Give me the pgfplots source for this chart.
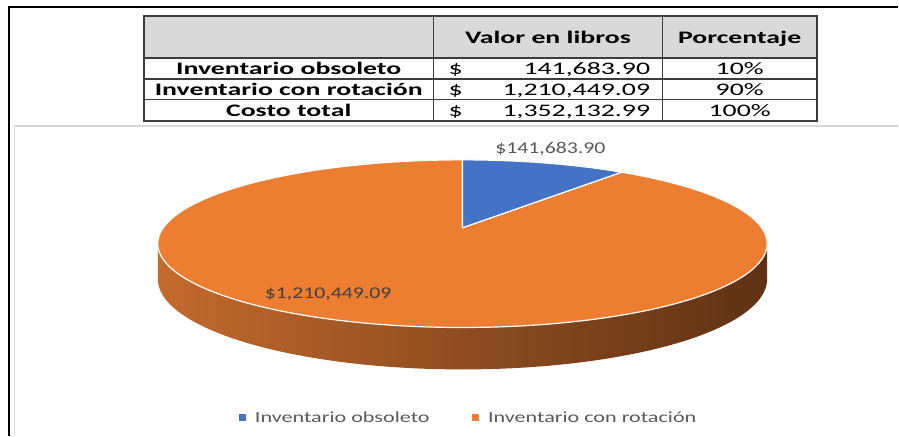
\documentclass[border=0pt]{standalone}
\usepackage{pgfplots}
\pgfplotsset{compat=1.18}
\usepackage{pgfplotstable}
\usepackage{fontspec}
\setmainfont{Carlito}
\newfontfamily\tabfont[FakeStretch=1.58]{Carlito}
\newfontfamily\labfont[FakeStretch=1.32]{Carlito}
\newfontfamily\legfont[FakeStretch=1.43]{Carlito}
\definecolor{xlblue}{RGB}{68,114,196}
\definecolor{xlorange}{RGB}{237,125,49}
\definecolor{sideL}{RGB}{196,106,45}
\definecolor{sideM}{RGB}{142,77,32}
\definecolor{sideR}{RGB}{95,50,20}
\definecolor{hdrgray}{RGB}{217,217,217}
\definecolor{tabline}{RGB}{60,60,60}
\definecolor{areagray}{RGB}{217,217,217}
\definecolor{labgray}{RGB}{89,89,89}
\definecolor{labdark}{RGB}{64,64,64}

\pgfplotstableread{
categoria valor
obsoleto 141683.90
rotacion 1210449.09
}\piedata

\begin{document}
\pgfplotstablegetelem{0}{valor}\of\piedata \edef\vA{\pgfplotsretval}%
\pgfplotstablegetelem{1}{valor}\of\piedata \edef\vB{\pgfplotsretval}%
\edef\angA{\fpeval{360*\vA/(\vA+\vB)}}%
\begin{tikzpicture}
\begin{axis}[
  x=1pt, y=1pt, xmin=0, xmax=899, ymin=0, ymax=436, y dir=reverse,
  hide axis, clip=false, scale only axis,
  declare function={
    sc(\p)=1/(1+0.19*cos(\p));
    px(\p)=463+299.5*sc(\p)*sin(\p);
    py(\p)=228-80.9*sc(\p)*cos(\p);
    ph(\t)=100.95+min(\t,2-\t)*158.1;
  },
  legend columns=2,
  legend style={at={(axis cs:469,418)}, anchor=center, draw=none, fill=none,
    font=\legfont\fontsize{15.5}{18}\selectfont, text=labgray,
    inner sep=0pt, column sep=0pt,
    /tikz/every odd column/.append style={column sep=8pt},
    /tikz/every even column/.append style={column sep=40pt}},
]
\path (axis cs:0,0) rectangle (axis cs:899,436);
% frames
\draw[black, line width=2pt] (axis cs:9,436) -- (axis cs:9,7) -- (axis cs:899,7);
\draw[areagray, line width=1.5pt] (axis cs:14.5,436) -- (axis cs:14.5,126) -- (axis cs:899,126);
% table
\fill[hdrgray] (axis cs:144,16) rectangle (axis cs:818,58);
\draw[tabline, line width=1.4pt] (axis cs:144,16) rectangle (axis cs:818,121);
\draw[tabline, line width=1.4pt] (axis cs:144,58) -- (axis cs:818,58);
\draw[tabline, line width=1.2pt] (axis cs:144,79) -- (axis cs:818,79);
\draw[tabline, line width=1.2pt] (axis cs:144,100) -- (axis cs:818,100);
\draw[tabline, line width=1.2pt] (axis cs:434,16) -- (axis cs:434,121);
\draw[tabline, line width=1.2pt] (axis cs:663,16) -- (axis cs:663,121);
\begin{scope}[every node/.style={font=\tabfont\fontsize{17.6}{20}\selectfont, text=black, inner sep=0pt}]
\node[anchor=base, font=\tabfont\bfseries\fontsize{17.6}{20}\selectfont] at (axis cs:548.5,44) {Valor en libros};
\node[anchor=base, font=\tabfont\bfseries\fontsize{17.6}{20}\selectfont] at (axis cs:740.5,44) {Porcentaje};
\node[anchor=base, font=\tabfont\bfseries\fontsize{17.6}{20}\selectfont] at (axis cs:289,75) {Inventario obsoleto};
\node[anchor=base, font=\tabfont\bfseries\fontsize{17.6}{20}\selectfont] at (axis cs:289,96) {Inventario con rotación};
\node[anchor=base, font=\tabfont\bfseries\fontsize{17.6}{20}\selectfont] at (axis cs:289,117) {Costo total};
\node[anchor=base west] at (axis cs:449,75) {\$};
\node[anchor=base west] at (axis cs:449,96) {\$};
\node[anchor=base west] at (axis cs:449,117) {\$};
\node[anchor=base east] at (axis cs:651,75) {141,683.90};
\node[anchor=base east] at (axis cs:651,96) {1,210,449.09};
\node[anchor=base east] at (axis cs:651,117) {1,352,132.99};
\node[anchor=base] at (axis cs:740.5,75) {10\%};
\node[anchor=base] at (axis cs:740.5,96) {90\%};
\node[anchor=base] at (axis cs:740.5,117) {100\%};
\end{scope}
% pie side
\addplot[forget plot, draw=none, left color=sideL, right color=sideR, middle color=sideM,
  variable=\t, domain=0:2, samples=161]
  ({px(ph(\t))},{py(ph(\t))+(\t>1)*34*sc(ph(\t))}) -- cycle;
% orange top face
\addplot[forget plot, fill=xlorange, draw=white, line width=1.2pt, line join=round,
  variable=\t, domain=\angA:360, samples=150]
  ({px(\t)},{py(\t)}) -- (axis cs:463,228) -- cycle;
% blue wedge
\addplot[forget plot, fill=xlblue, draw=white, line width=1.2pt, line join=round,
  variable=\t, domain=0:\angA, samples=40]
  ({px(\t)},{py(\t)}) -- (axis cs:463,228) -- cycle;
% data labels
\node[anchor=base, inner sep=0pt, text=labgray, font=\labfont\fontsize{16.5}{19}\selectfont] at (axis cs:551,154) {\$141,683.90};
\node[anchor=base, inner sep=0pt, text=labdark, font=\labfont\fontsize{16.5}{19}\selectfont] at (axis cs:328.5,299) {\$1,210,449.09};
% legend
\addlegendimage{legend image code/.code={\fill[xlblue] (0pt,-3pt) rectangle (6pt,3pt);}}
\addlegendentry{Inventario obsoleto}
\addlegendimage{legend image code/.code={\fill[xlorange] (0pt,-3pt) rectangle (6pt,3pt);}}
\addlegendentry{Inventario con rotación}
\end{axis}
\end{tikzpicture}
\end{document}
